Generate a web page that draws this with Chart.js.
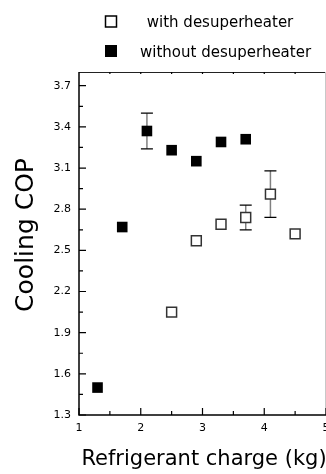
<!DOCTYPE html>
<html>
<head>
<meta charset="utf-8">
<script src="https://cdn.jsdelivr.net/npm/chart.js@4/dist/chart.umd.min.js"></script>
<style>
  body { margin: 0; background: #fff; }
  canvas { display: block; }
</style>
</head>
<body>
<canvas id="copChart" width="326" height="474"></canvas>
<script>
// refrigerant charge (kg) and cooling COP
const xWith = [2.5, 2.9, 3.3, 3.7, 4.1, 4.5];
const yWith = [2.05, 2.57, 2.69, 2.74, 2.91, 2.62];
const errWith = [0, 0, 0, 0.09, 0.17, 0];

const xWithout = [1.3, 1.7, 2.1, 2.5, 2.9, 3.3, 3.7];
const yWithout = [1.50, 2.67, 3.37, 3.23, 3.15, 3.29, 3.31];
const errWithout = [0, 0, 0.13, 0, 0, 0, 0];

const xTicks = [1, 2, 3, 4, 5];
const yTicks = [1.3, 1.6, 1.9, 2.2, 2.5, 2.8, 3.1, 3.4, 3.7];

const labelWith = ' with desuperheater';
const labelWithout = 'without desuperheater';
const xTitle = 'Refrigerant charge (kg)';
const yTitle = 'Cooling COP';

const FONT = '"DejaVu Sans", sans-serif';

function toPoints(xs, ys, errs) {
  return xs.map((x, i) => ({ x: x, y: ys[i], err: errs[i] }));
}

// error bars: grey stem with black caps, drawn under the markers
const errorBars = {
  id: 'errorBars',
  beforeDatasetsDraw(chart) {
    const ctx = chart.ctx;
    const xs = chart.scales.x, ys = chart.scales.y;
    ctx.save();
    chart.data.datasets.forEach(ds => {
      ds.data.forEach(p => {
        if (!p.err) return;
        const px = xs.getPixelForValue(p.x);
        const top = ys.getPixelForValue(p.y + p.err);
        const bot = ys.getPixelForValue(p.y - p.err);
        ctx.strokeStyle = '#808080';
        ctx.lineWidth = 1.5;
        ctx.beginPath();
        ctx.moveTo(px, top);
        ctx.lineTo(px, bot);
        ctx.stroke();
        ctx.strokeStyle = '#000';
        ctx.lineWidth = 1.2;
        ctx.beginPath();
        ctx.moveTo(px - 6, top); ctx.lineTo(px + 6, top);
        ctx.moveTo(px - 6, bot); ctx.lineTo(px + 6, bot);
        ctx.stroke();
      });
    });
    ctx.restore();
  }
};

// frame, inward ticks, legend and axis titles
const frame = {
  id: 'frame',
  afterDraw(chart) {
    const ctx = chart.ctx;
    const a = chart.chartArea;
    const xs = chart.scales.x, ys = chart.scales.y;
    ctx.save();

    ctx.strokeStyle = '#222';
    ctx.lineWidth = 1;
    ctx.beginPath();
    ctx.moveTo(a.left, a.top + 0.5); ctx.lineTo(a.right, a.top + 0.5);
    ctx.stroke();
    ctx.strokeStyle = '#c8c8c8';
    ctx.beginPath();
    ctx.moveTo(a.right - 0.5, a.top); ctx.lineTo(a.right - 0.5, a.bottom);
    ctx.stroke();

    ctx.strokeStyle = '#000';
    ctx.lineWidth = 1.5;
    ctx.beginPath();
    ctx.moveTo(a.left, a.top); ctx.lineTo(a.left, a.bottom);
    ctx.lineTo(a.right, a.bottom);
    ctx.stroke();

    ctx.lineWidth = 1.2;
    ctx.beginPath();
    yTicks.forEach(v => {
      const py = ys.getPixelForValue(v);
      ctx.moveTo(a.left, py); ctx.lineTo(a.left + 7, py);
      if (v + 0.15 < ys.max) {
        const pm = ys.getPixelForValue(v + 0.15);
        ctx.moveTo(a.left, pm); ctx.lineTo(a.left + 4, pm);
      }
    });
    xTicks.forEach(v => {
      const px = xs.getPixelForValue(v);
      ctx.moveTo(px, a.bottom); ctx.lineTo(px, a.bottom - 7);
      if (v < xs.max) {
        const pm = xs.getPixelForValue(v + 0.5);
        ctx.moveTo(pm, a.bottom); ctx.lineTo(pm, a.bottom - 4);
        ctx.moveTo(pm, a.top); ctx.lineTo(pm, a.top + 2);
      }
      if (v > xs.min && v < xs.max) { ctx.moveTo(px, a.top); ctx.lineTo(px, a.top + 2); }
    });
    ctx.stroke();

    // legend
    ctx.lineWidth = 1.5;
    ctx.strokeStyle = '#000';
    ctx.strokeRect(105.5, 16, 11, 11);
    ctx.fillStyle = '#000';
    ctx.fillRect(105, 45, 12, 12);
    ctx.font = '15px ' + FONT;
    ctx.textBaseline = 'alphabetic';
    ctx.textAlign = 'left';
    ctx.fillText(labelWith, 142, 27);
    ctx.fillText(labelWithout, 140, 57);

    // axis titles
    ctx.font = '21px ' + FONT;
    ctx.textAlign = 'center';
    ctx.fillText(xTitle, 204, 465);
    ctx.translate(33, 235);
    ctx.rotate(-Math.PI / 2);
    ctx.font = '25px ' + FONT;
    ctx.fillText(yTitle, 0, 0);
    ctx.restore();
  }
};

new Chart(document.getElementById('copChart'), {
  type: 'scatter',
  data: {
    datasets: [
      {
        label: labelWith,
        data: toPoints(xWith, yWith, errWith),
        pointStyle: 'rect',
        pointRadius: 7,
        pointHoverRadius: 7,
        pointBorderWidth: 1.5,
        pointBorderColor: '#333',
        pointBackgroundColor: '#fff'
      },
      {
        label: labelWithout,
        data: toPoints(xWithout, yWithout, errWithout),
        pointStyle: 'rect',
        pointRadius: 7.5,
        pointHoverRadius: 7.5,
        pointBorderWidth: 0,
        pointBorderColor: '#000',
        pointBackgroundColor: '#000'
      }
    ]
  },
  options: {
    responsive: false,
    animation: false,
    layout: { autoPadding: false, padding: { top: 72, right: 0, left: 0, bottom: 0 } },
    plugins: {
      legend: { display: false },
      tooltip: { enabled: false }
    },
    scales: {
      x: {
        type: 'linear',
        min: 1, max: 5,
        grid: { display: false, drawTicks: false },
        border: { display: false },
        afterBuildTicks: s => { s.ticks = xTicks.map(v => ({ value: v })); },
        afterFit: s => { s.height = 59; s.paddingLeft = 0; s.paddingRight = 0; },
        ticks: {
          padding: 7,
          color: '#000',
          font: { family: FONT, size: 11 },
          maxRotation: 0,
          autoSkip: false
        }
      },
      y: {
        type: 'linear',
        min: 1.3, max: 3.8,
        grid: { display: false, drawTicks: false },
        border: { display: false },
        afterBuildTicks: s => { s.ticks = yTicks.map(v => ({ value: v })); },
        afterFit: s => { s.width = 79; s.paddingTop = 0; s.paddingBottom = 0; },
        ticks: {
          padding: 8,
          color: '#000',
          font: { family: FONT, size: 11 },
          callback: v => v.toFixed(1)
        }
      }
    }
  },
  plugins: [errorBars, frame]
});
</script>
</body>
</html>
